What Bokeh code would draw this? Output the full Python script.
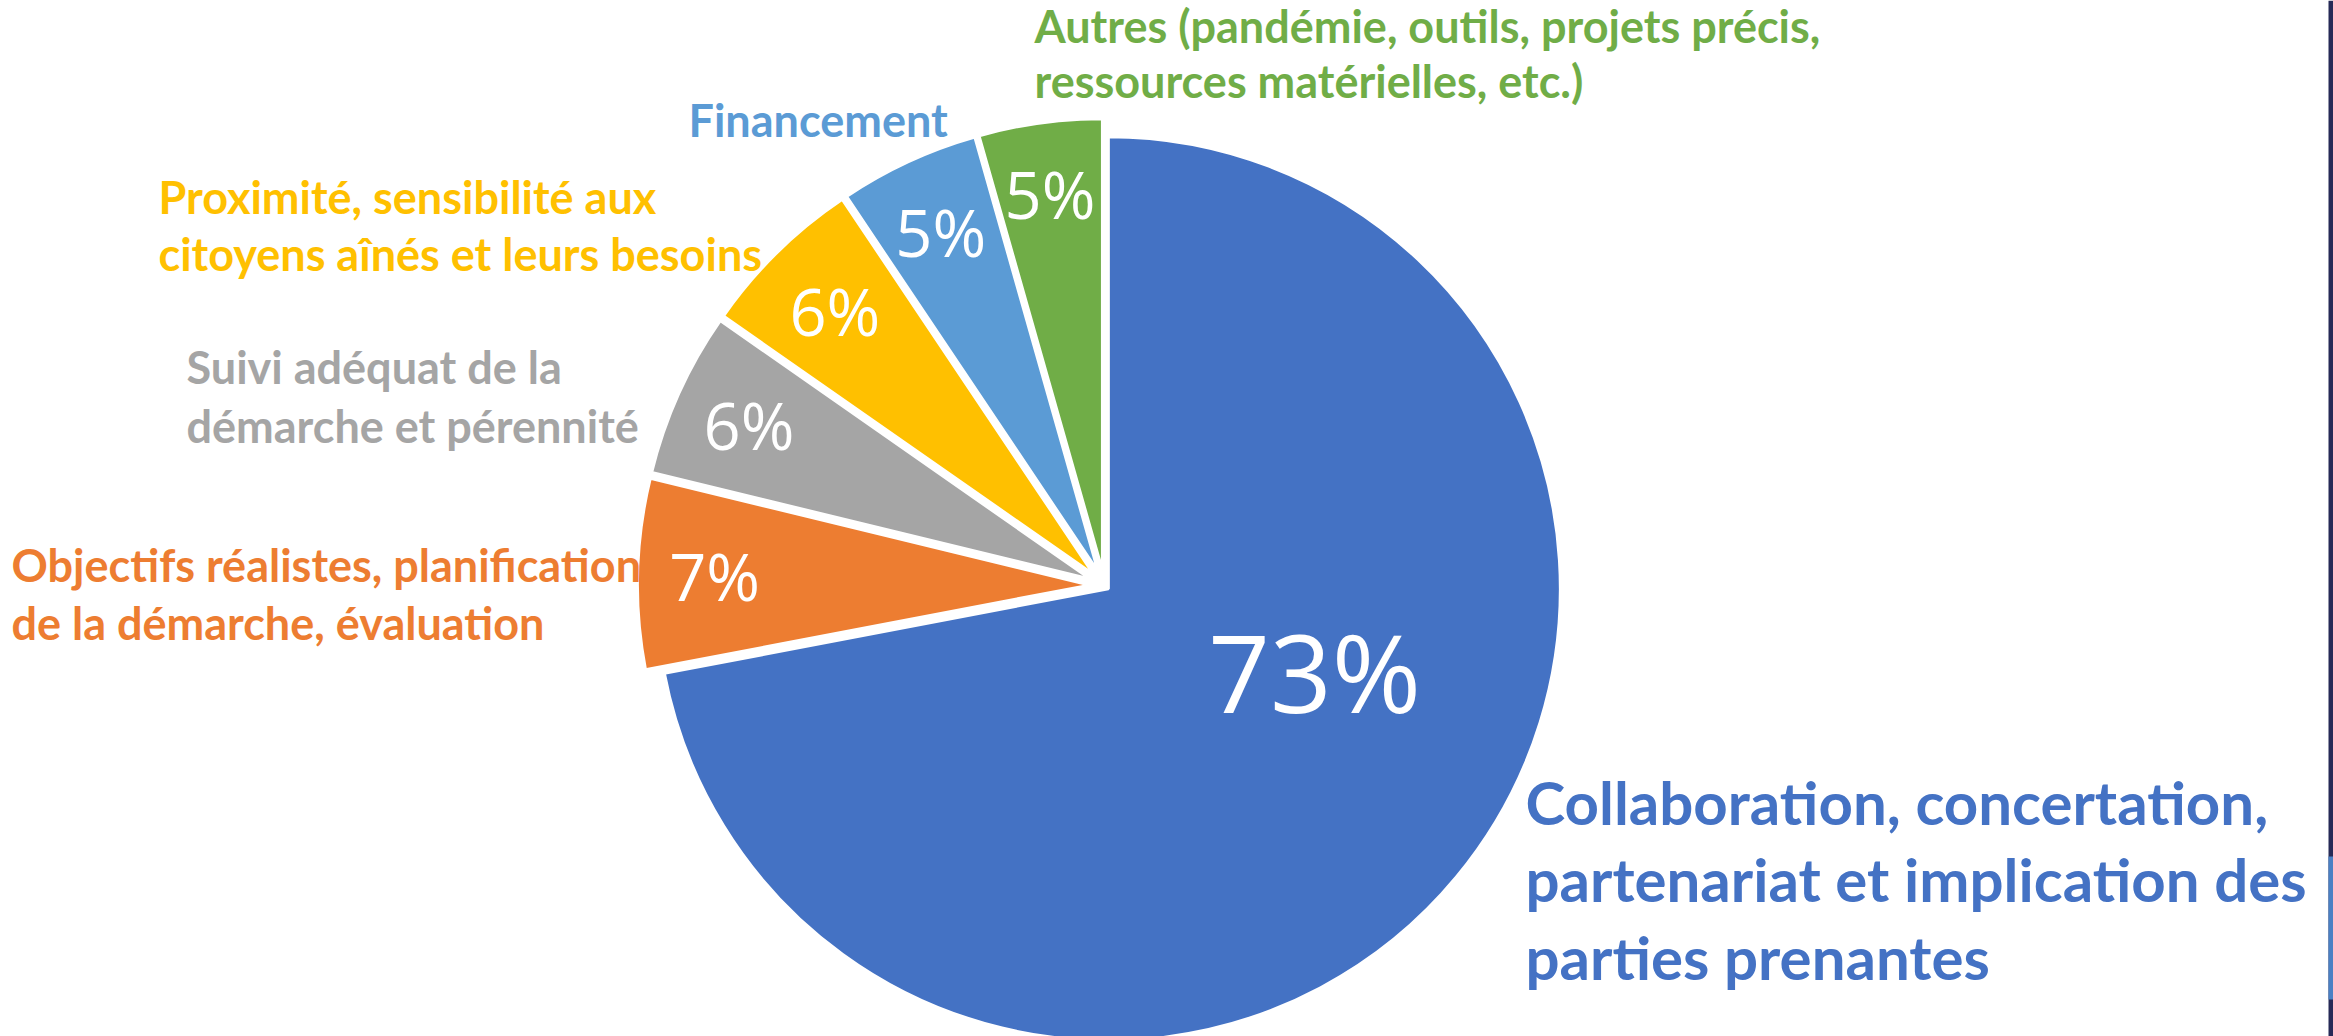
import math
from bokeh.plotting import figure
from bokeh.models import Range1d, ColumnDataSource
from bokeh.core.properties import value
from bokeh.embed import file_html
from bokeh.resources import INLINE

# ---------------- data ----------------
categories = [
    "Collaboration, concertation,\npartenariat et implication des\nparties prenantes",
    "Objectifs réalistes, planification\nde la démarche, évaluation",
    "Suivi adéquat de la\ndémarche et pérennité",
    "Proximité, sensibilité aux\ncitoyens aînés et leurs besoins",
    "Financement",
    "Autres (pandémie, outils, projets précis,\nressources matérielles, etc.)",
]
shares = [72.0, 6.8, 5.9, 5.9, 5.0, 4.4]
pct_labels = ["73%", "7%", "6%", "6%", "5%", "5%"]

# ---------------- styles / layout ----------------
colors = ["#4472C4", "#ED7D31", "#A5A5A5", "#FFC000", "#5B9BD5", "#70AD47"]
W, H = 2333, 1036
OX, OY = 1104, 585          # pie centre (page pixels)
R = 452
explode = [5, 15, 15, 15, 15, 15]
pct_font = [108, 65, 65, 65, 65, 65]
pct_r = [227, 390, 390, 385, 390, 395]
pct_shift = [17.4, 0, 0, 0, 0, 0]
cat_x = [1525, 11, 186, 158, 688, 1034]
cat_y0 = [823, 581, 383, 213, 136, 42]      # baselines (page px)
cat_dy = [77.5, 58, 59, 57, 0, 55]
cat_font = [60, 45, 45, 45, 45, 45]
BASE_COMP = 0.36   # renderer centres caps on anchor: shift up to land on baseline

p = figure(width=W, height=H, x_range=Range1d(0, W), y_range=Range1d(-H, 0),
           output_backend="svg", toolbar_location=None, min_border=0,
           x_axis_location=None, y_axis_location=None)
p.grid.visible = False
p.outline_line_color = None
p.background_fill_color = "white"
p.border_fill_color = "white"

total = sum(shares)
xs, ys, a0s, a1s, mids = [], [], [], [], []
cum = 0.0
for i, v in enumerate(shares):
    a0 = 90 - cum / total * 360
    cum += v
    a1 = 90 - cum / total * 360
    mid = math.radians((a0 + a1) / 2)
    xs.append(OX + explode[i] * math.cos(mid))
    ys.append(-OY + explode[i] * math.sin(mid))
    a0s.append(math.radians(a0))
    a1s.append(math.radians(a1))
    mids.append((a0 + a1) / 2)

src = ColumnDataSource(dict(x=xs, y=ys, a0=a0s, a1=a1s, color=colors))
p.wedge(x="x", y="y", radius=R, start_angle="a0", end_angle="a1", direction="clock",
        fill_color="color", line_color="white", line_width=3, source=src)

# percentage labels (anchor = visual centre of the digits)
for i, lab in enumerate(pct_labels):
    ang = math.radians(mids[i] + pct_shift[i])
    cx = OX + pct_r[i] * math.cos(ang)
    cy = -OY + pct_r[i] * math.sin(ang)
    p.text(x=[cx], y=[cy], text=[lab], text_align="center",
           text_baseline="alphabetic", text_color="white",
           text_font=value("Open Sans"), text_font_size=value(f"{pct_font[i]}px"))

# category labels
for i, cat in enumerate(categories):
    lines = cat.split("\n")
    for k, line in enumerate(lines):
        base = cat_y0[i] + k * cat_dy[i]
        p.text(x=[cat_x[i]], y=[-(base - BASE_COMP * cat_font[i])], text=[line],
               text_align="left", text_baseline="alphabetic", text_color=colors[i],
               text_font=value("Lato"), text_font_style="bold",
               text_font_size=value(f"{cat_font[i]}px"))

# slide edge visible at the right of the screenshot
p.quad(left=[2328], right=[2333], bottom=[-1036], top=[0], fill_color="#262a57", line_color=None)
p.quad(left=[2328], right=[2333], bottom=[-999], top=[-856], fill_color="#4a80c4", line_color=None)

open("out.html", "w").write(file_html(p, INLINE))
